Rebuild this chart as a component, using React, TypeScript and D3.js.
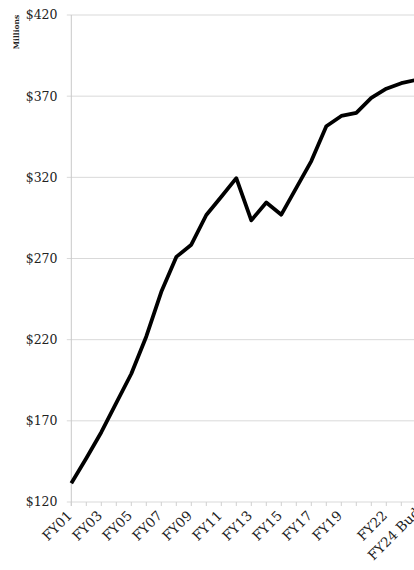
import React from 'react';
import * as d3 from 'd3';

// fiscal years, FY01 .. FY24 Budget
const categories = [
  'FY01', 'FY02', 'FY03', 'FY04', 'FY05', 'FY06', 'FY07', 'FY08',
  'FY09', 'FY10', 'FY11', 'FY12', 'FY13', 'FY14', 'FY15', 'FY16',
  'FY17', 'FY18', 'FY19', 'FY20', 'FY21', 'FY22', 'FY23', 'FY24 Budget',
];

// $ millions
const values = [
  131.5, 147, 163, 181, 199, 222, 249.5, 271,
  278.5, 296.8, 308, 319.5, 293.5, 304.5, 297, 313.5,
  330, 351.5, 357.8, 359.7, 369, 374.6, 378, 380,
];

// only these categories get a label
const labelled = [
  'FY01', 'FY03', 'FY05', 'FY07', 'FY09', 'FY11', 'FY13', 'FY15',
  'FY17', 'FY19', 'FY22', 'FY24 Budget',
];

const yTicks = [120, 170, 220, 270, 320, 370, 420];

const W = 414;
const H = 570;
const margin = { top: 15, right: -2.3, bottom: 68, left: 71.3 };
const font = '"DejaVu Serif", serif';

export default function App() {
  const x = d3
    .scalePoint<string>()
    .domain(categories)
    .range([margin.left, W - margin.right]);

  const y = d3
    .scaleLinear()
    .domain([120, 420])
    .range([H - margin.bottom, margin.top]);

  const line = d3
    .line<number>()
    .x((_, i) => x(categories[i]) as number)
    .y((d) => y(d));

  const bottom = y(120);
  const last = categories[categories.length - 1];

  return (
    <svg
      width={W}
      height={H}
      style={{ position: 'absolute', left: 0, top: 0 }}
      fontFamily={font}
    >
      <rect width={W} height={H} fill="#fff" />

      {/* gridlines + y labels */}
      {yTicks.map((t) => (
        <g key={t}>
          <line
            x1={margin.left - 4.5}
            x2={W}
            y1={y(t)}
            y2={y(t)}
            stroke="#d9d9d9"
            strokeWidth={1}
          />
          <text
            x={57.5}
            y={y(t)}
            dy="0.35em"
            textAnchor="end"
            fontSize={12.5}
            fill="#222"
          >
            ${t}
          </text>
        </g>
      ))}

      <text
        transform={`translate(18.5,32) rotate(-90)`}
        textAnchor="middle"
        fontSize={7.5}
        fontWeight="bold"
        fill="#222"
      >
        Millions
      </text>

      {/* y axis line */}
      <line
        x1={margin.left}
        x2={margin.left}
        y1={margin.top}
        y2={bottom + 4}
        stroke="#c8c8c8"
        strokeWidth={1}
      />

      {/* x axis ticks */}
      {categories.map((c) => (
        <line
          key={c}
          x1={x(c)}
          x2={x(c)}
          y1={bottom}
          y2={bottom + 4}
          stroke="#d0d0d0"
          strokeWidth={1}
        />
      ))}

      {/* x labels, the last one is pushed along its own direction like excel does */}
      {labelled.map((c) => (
        <text
          key={c}
          transform={`translate(${(x(c) as number) + 1.7},${bottom + 14.5}) rotate(-45)`}
          dx={c === last ? 26 : 0}
          textAnchor="end"
          fontSize={13.5}
          fill="#222"
        >
          {c}
        </text>
      ))}

      <path
        d={line(values) ?? ''}
        fill="none"
        stroke="#000"
        strokeWidth={3.8}
        strokeLinejoin="round"
        strokeLinecap="butt"
      />
    </svg>
  );
}
